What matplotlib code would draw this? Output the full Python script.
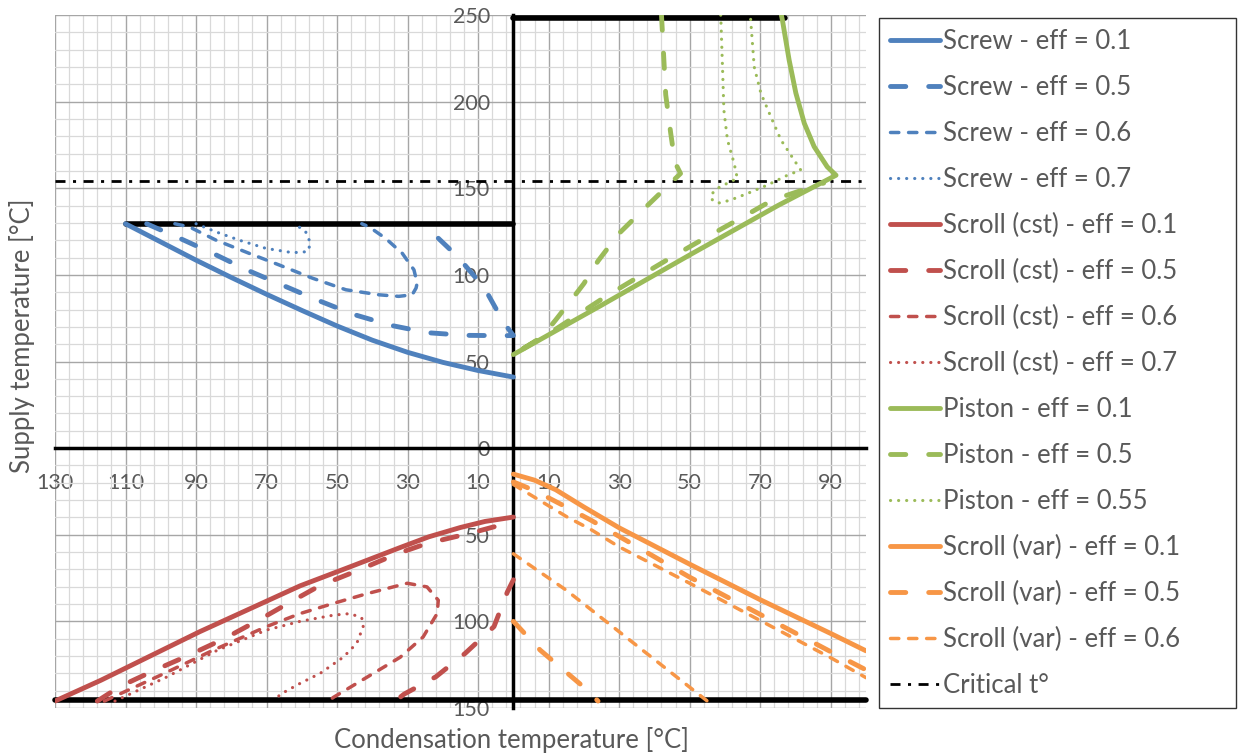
import matplotlib
matplotlib.use('Agg')
import matplotlib.pyplot as plt
from matplotlib.ticker import MultipleLocator, FuncFormatter
import numpy as np

plt.rcParams['font.family'] = ['Lato', 'DejaVu Sans']
plt.rcParams['lines.scale_dashes'] = False

nan = np.nan

# Screw (upper left quadrant)
screw_01_x = [-110, -100, -90, -80, -70, -60, -50, -40, -30, -20, -10, 0]
screw_01_y = [129.5, 119, 108.5, 98.5, 88.8, 79.5, 70.5, 62.3, 55.3, 49.5, 44.8, 41]
screw_05_x = [-104, -94.5, -84.8, -75.2, -65.3, -55.4, -45.2, -34.6, -24.2, -13.6, -2.7, 0,
              -2.7, -8.2, -15.8, -23.5, -26]
screw_05_y = [129.5, 121, 112, 102.5, 93.9, 85.3, 77.1, 70.8, 66.6, 65.1, 64.9, 65,
              72.3, 92.4, 110.5, 125.4, 129.5]
screw_06_x = [-96, -91.9, -84.3, -74.9, -66.4, -57, -47.5, -38.1, -32.5, -28.7, -27.6,
              -27.3, -28.2, -31.5, -36.2, -40.9, -43]
screw_06_y = [129.5, 127.7, 120, 112.4, 105.7, 98.1, 91.4, 88.5, 87.6, 88.5, 92.4,
              95.2, 102.9, 112.4, 121, 127.7, 129.5]
screw_07_x = [-90, -84.3, -77.7, -70.2, -62.6, -58.4, -57.5, -58.9, -60.8, -62]
screw_07_y = [129.5, 124.8, 120, 115.3, 112.8, 113.4, 118.1, 124.8, 127.7, 129.5]

# Scroll, constant (lower left quadrant)
scroll_cst_01_x = [-130, -117, -89, -60.5, -46.3, -32, -24, -15, -8, 0]
scroll_cst_01_y = [-146, -134, -106, -79.5, -68.5, -57.3, -51.2, -45.8, -42.3, -39.8]
scroll_cst_05_x = [-118, -111.5, -101.5, -92, -82, -72, -62.5, -55, -44, -33, -24.5, -12, -2, 0,
                   nan, 0, -1.7, -5.5, -13.7, -22, -31, -33.5]
scroll_cst_05_y = [-146, -137.5, -128, -119.5, -110, -99, -88, -79.5, -70.5, -61, -55, -49, -43.5, -42,
                   nan, -76, -83, -103, -118.5, -132, -142, -146]
scroll_cst_06_x = [-116, -100, -85, -70, -60.5, -51, -41.5, -30.1, -24.5, -21.3, -21.6, -25.6,
                   -32.1, -41.5, -51, -52.5]
scroll_cst_06_y = [-146, -131, -116.5, -103, -95.5, -89.6, -84, -78, -80.1, -87.8, -95.4, -109,
                   -120.7, -132.2, -143.8, -146]
scroll_cst_07_x = [-113, -98.4, -84, -70, -60.5, -51, -46.3, -43, -42.6, -44.4, -48.2, -54.8,
                   -60.5, -66, -68]
scroll_cst_07_y = [-146, -132.2, -116.7, -105, -100, -96.4, -95.5, -98, -103, -112.6, -120.6, -130,
                   -135.8, -142, -146]

# Piston (upper right quadrant)
piston_01_x = [0, 25, 50, 75, 91.5, 89, 85.3, 82.5, 80.1, 78.2, 76.3, 76]
piston_01_y = [54, 82.5, 111.5, 140, 157.5, 162.4, 174, 187.5, 205, 224, 247, 250]
piston_05_x = [42, 43.2, 44.6, 45.8, 47.4, 38, 30, 24, 20, 17, 12, 8, 0,
               10, 26.1, 35.6, 45.1, 54.1, 63.5, 73.5, 85, 88]
piston_05_y = [250, 204, 182, 165, 158.5, 140, 124, 108, 95, 87, 74, 64, 54,
               66, 87.4, 99, 110.5, 121, 131.6, 143.2, 151, 153]
piston_055_x = [58.8, 59.3, 59.7, 60.7, 62.6, 63.5, 60.7, 57.9, 56, 56.5, 58.5, 61.6, 66.4,
                72, 77.8, 81.5, 79.6, 75.9, 73, 70.2, 68.3, 67.3, 67.2]
piston_055_y = [250, 220, 195, 178, 164.4, 155.7, 152.9, 150, 146.2, 142.8, 141.5, 143.2, 147,
                151.8, 157.6, 160.5, 166.3, 177.8, 191.3, 204.8, 220, 247, 250]

# Scroll, variable (lower right quadrant)
scroll_var_01_x = [0, 6, 12, 20, 30, 50, 70, 90, 100]
scroll_var_01_y = [-15, -18.5, -24, -34, -46, -67, -87.5, -107, -117]
scroll_var_05_x = [0, 6, 15, 22, 33, 50, 70, 90, 100, nan, 0, 7.6, 20, 24]
scroll_var_05_y = [-19.5, -24.5, -34, -41.6, -54.5, -74.5, -96, -117.5, -128, nan, -100, -116.6, -138, -146]
scroll_var_06_x = [0, 5.7, 15.2, 22, 30, 50, 70, 90, 100, nan, 0, 15, 30, 42.5, 55]
scroll_var_06_y = [-21, -28, -39.7, -47, -57, -78, -99.5, -121, -132.5, nan, -61, -82, -106, -126, -146]

# Limits
screw_max_x = [-110, 0]
screw_max_y = [129.5, 129.5]
piston_max_x = [0, 77]
piston_max_y = [248.5, 248.5]
scroll_max_x = [-130, 100]
scroll_max_y = [-145.5, -145.5]
critical_x = [-130, 100]
critical_y = [154, 154]

BLUE = '#4F81BD'
RED = '#C0504D'
GREEN = '#9BBB59'
ORANGE = '#F79646'
TEXT = '#595959'

styles = {
    'solid': dict(lw=3.5, ls='-', solid_capstyle='round'),
    'long': dict(lw=3.5, dashes=(11, 16.5), dash_capstyle='round'),
    'medium': dict(lw=2.5, dashes=(6, 7), dash_capstyle='round'),
    'dot': dict(lw=2.25, dashes=(0.1, 5.7), dash_capstyle='round'),
}

fig = plt.figure(figsize=(12.43, 7.56), dpi=100)
ax = fig.add_axes([55 / 1243, 1 - 708 / 756, (866 - 55) / 1243, (708 - 15) / 756])

series = [
    (screw_01_x, screw_01_y, BLUE, 'solid', 'Screw - eff = 0.1'),
    (screw_05_x, screw_05_y, BLUE, 'long', 'Screw - eff = 0.5'),
    (screw_06_x, screw_06_y, BLUE, 'medium', 'Screw - eff = 0.6'),
    (screw_07_x, screw_07_y, BLUE, 'dot', 'Screw - eff = 0.7'),
    (scroll_cst_01_x, scroll_cst_01_y, RED, 'solid', 'Scroll (cst) - eff = 0.1'),
    (scroll_cst_05_x, scroll_cst_05_y, RED, 'long', 'Scroll (cst) - eff = 0.5'),
    (scroll_cst_06_x, scroll_cst_06_y, RED, 'medium', 'Scroll (cst) - eff = 0.6'),
    (scroll_cst_07_x, scroll_cst_07_y, RED, 'dot', 'Scroll (cst) - eff = 0.7'),
    (piston_01_x, piston_01_y, GREEN, 'solid', 'Piston - eff = 0.1'),
    (piston_05_x, piston_05_y, GREEN, 'long', 'Piston - eff = 0.5'),
    (piston_055_x, piston_055_y, GREEN, 'dot', 'Piston - eff = 0.55'),
    (scroll_var_01_x, scroll_var_01_y, ORANGE, 'solid', 'Scroll (var) - eff = 0.1'),
    (scroll_var_05_x, scroll_var_05_y, ORANGE, 'long', 'Scroll (var) - eff = 0.5'),
    (scroll_var_06_x, scroll_var_06_y, ORANGE, 'medium', 'Scroll (var) - eff = 0.6'),
]

for xs, ys, color, style, label in series:
    ax.plot(xs, ys, color=color, label=label, zorder=4, **styles[style])

for xs, ys in [(screw_max_x, screw_max_y), (piston_max_x, piston_max_y),
               (scroll_max_x, scroll_max_y)]:
    ax.plot(xs, ys, color='black', lw=4, solid_capstyle='round', zorder=3,
            label='_nolegend_', clip_on=False)

ax.plot(critical_x, critical_y, color='black', lw=2, dashes=(7.2, 5.4, 2.2, 5.4),
        dash_capstyle='butt', zorder=3, label='Critical t°')

ax.set_xlim(-130, 100)
ax.set_ylim(-150, 250)

ax.xaxis.set_major_locator(MultipleLocator(20, offset=10))
ax.xaxis.set_minor_locator(MultipleLocator(4, offset=2))
ax.yaxis.set_major_locator(MultipleLocator(50))
ax.yaxis.set_minor_locator(MultipleLocator(10))
abs_fmt = FuncFormatter(lambda v, p: '%d' % abs(round(v)))
ax.xaxis.set_major_formatter(abs_fmt)
ax.yaxis.set_major_formatter(abs_fmt)

ax.grid(which='major', color='#A6A6A6', lw=1.0, zorder=0)
ax.grid(which='minor', color='#D9D9D9', lw=0.9, zorder=0)
ax.set_axisbelow(True)

for side in ['top', 'right']:
    ax.spines[side].set_visible(False)
ax.spines['left'].set_position(('data', 0))
ax.spines['bottom'].set_position(('data', 0))
for side in ['left', 'bottom']:
    ax.spines[side].set_linewidth(2.5)
    ax.spines[side].set_color('black')
    ax.spines[side].set_zorder(2.5)

ax.tick_params(axis='both', which='both', length=0, labelsize=15.5, labelcolor=TEXT)
ax.tick_params(axis='x', pad=18)
ax.tick_params(axis='y', pad=17)

fig.text(22 / 1243, 1 - 336 / 756, 'Supply temperature [°C]', rotation=90,
         ha='center', va='center', fontsize=18.5, color=TEXT)
fig.text(511.5 / 1243, 1 - 748 / 756, 'Condensation temperature [°C]',
         ha='center', va='baseline', fontsize=18.5, color=TEXT)

leg = fig.legend(loc='upper left', bbox_to_anchor=(879 / 1243, 1 - 708 / 756, 357 / 1243, 690 / 756),
                 mode='expand', ncol=1, fontsize=18.5, frameon=True, fancybox=False,
                 edgecolor='black', handlelength=1.95, handletextpad=0.12,
                 labelspacing=0.815, borderpad=0.42, borderaxespad=0)
leg.get_frame().set_linewidth(1.0)
for t in leg.get_texts():
    t.set_color(TEXT)

fig.savefig('out.png', dpi=100)
